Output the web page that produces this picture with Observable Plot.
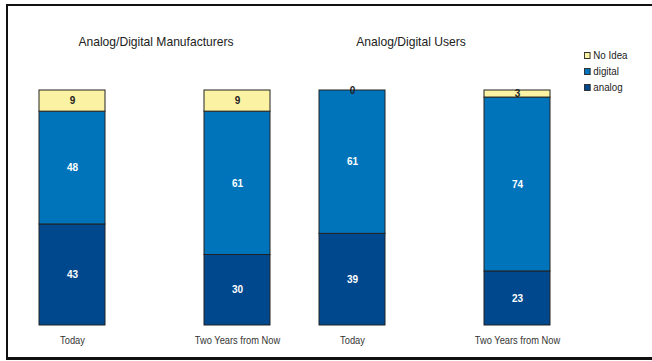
<!DOCTYPE html>
<html>
<head>
<meta charset="utf-8">
<script src="https://cdn.jsdelivr.net/npm/d3@7"></script>
<script src="https://cdn.jsdelivr.net/npm/@observablehq/plot@0.6"></script>
<style>
  html, body { margin: 0; padding: 0; background: #fff; overflow: hidden; }
  #wrap { position: relative; width: 652px; height: 361px; overflow: hidden; font-family: "Liberation Sans", Arial, sans-serif; }
  #frame { position: absolute; left: 6px; top: 4px; width: 700px; height: 356px; box-sizing: border-box;
           border-left: 2px solid #111; border-top: 2px solid #111; border-bottom: 3px solid #111; }
  #legend { position: absolute; left: 584px; top: 47px; font-size: 10.5px; color: #222; line-height: 16px;
            transform: scaleX(0.93); transform-origin: left top; }
  #legend .item { display: flex; align-items: center; }
  #legend .sw { width: 5px; height: 5px; border: 1px solid #333; margin-right: 3px; }
  svg { position: absolute; left: 0; top: 0; }
</style>
</head>
<body>
<div id="wrap">
  <div id="frame"></div>
  <div id="legend"></div>
</div>
<script>
// ---- data ----
const groups = ["Manufacturers", "Users"];
const groupTitles = ["Analog/Digital Manufacturers", "Analog/Digital Users"];
const periods = ["Today", "Two Years from Now"];
const types = ["analog", "digital", "No Idea"];
const legendOrder = ["No Idea", "digital", "analog"];
const colors = ["#00488E", "#0074BB", "#FBF2A3"];
// values per bar: Manufacturers-Today, Manufacturers-TwoYears, Users-Today, Users-TwoYears
const analog  = [43, 30, 39, 23];
const digital = [48, 61, 61, 74];
const noIdea  = [9, 9, 0, 3];

// ---- build table ----
const bars = [
  {group: groups[0], period: periods[0]},
  {group: groups[0], period: periods[1]},
  {group: groups[1], period: periods[0]},
  {group: groups[1], period: periods[1]}
];
const series = {analog, digital, "No Idea": noIdea};
const rows = [];
bars.forEach((b, i) => {
  types.forEach(t => rows.push({group: b.group, period: b.period, type: t, value: series[t][i]}));
});

const font = '"Liberation Sans", Arial, sans-serif';

const chart = Plot.plot({
  width: 652,
  height: 361,
  marginTop: 90,
  marginBottom: 36,
  marginLeft: 39,
  marginRight: 102,
  style: {fontFamily: font, background: "transparent", overflow: "visible"},
  fx: {domain: groups, paddingInner: 0.175, paddingOuter: 0, axis: null, label: null},
  x: {domain: periods, paddingInner: 0.6, paddingOuter: 0, tickSize: 0, tickPadding: 11, label: null, fontSize: 9.5},
  y: {domain: [0, 100], axis: null},
  color: {domain: types, range: colors},
  marks: [
    Plot.barY(rows, Plot.stackY({fx: "group", x: "period", y: "value", z: "type", fill: "type", stroke: "#222", strokeWidth: 1})),
    Plot.text(rows, Plot.stackY({fx: "group", x: "period", y: "value", z: "type",
      text: d => d.type !== "No Idea" ? String(d.value) : "",
      fill: "white", fontWeight: "bold", fontSize: 10})),
    Plot.text(rows, Plot.stackY({fx: "group", x: "period", y: "value", z: "type",
      text: d => d.type === "No Idea" ? String(d.value) : "",
      fill: "#222", fontWeight: "bold", fontSize: 10})),
    Plot.text([groupTitles[0]], {fx: () => groups[0], frameAnchor: "top", dy: -54, dx: 1, text: d => d, fontSize: 13, fill: "#222"}),
    Plot.text([groupTitles[1]], {fx: () => groups[1], frameAnchor: "top", dy: -54, dx: -24, text: d => d, fontSize: 13, fill: "#222"})
  ]
});
document.getElementById("wrap").appendChild(chart);
// condense non-bold texts (narrow typeface look)
chart.querySelectorAll("text").forEach(t => {
  const bold = (t.getAttribute("font-weight") || (t.parentNode && t.parentNode.getAttribute && t.parentNode.getAttribute("font-weight"))) === "bold";
  if (bold || !t.textContent) return;
  const w = t.getComputedTextLength();
  if (w > 0) {
    t.setAttribute("textLength", (w * 0.93).toFixed(2));
    t.setAttribute("lengthAdjust", "spacingAndGlyphs");
  }
});
chart.querySelectorAll('g[aria-label="x-axis tick label"]').forEach(g => g.setAttribute("fill", "#333"));

// legend
const legend = document.getElementById("legend");
legendOrder.forEach(t => {
  const item = document.createElement("div");
  item.className = "item";
  const sw = document.createElement("span");
  sw.className = "sw";
  sw.style.background = colors[types.indexOf(t)];
  const lab = document.createElement("span");
  lab.textContent = t;
  item.appendChild(sw);
  item.appendChild(lab);
  legend.appendChild(item);
});
</script>
</body>
</html>
